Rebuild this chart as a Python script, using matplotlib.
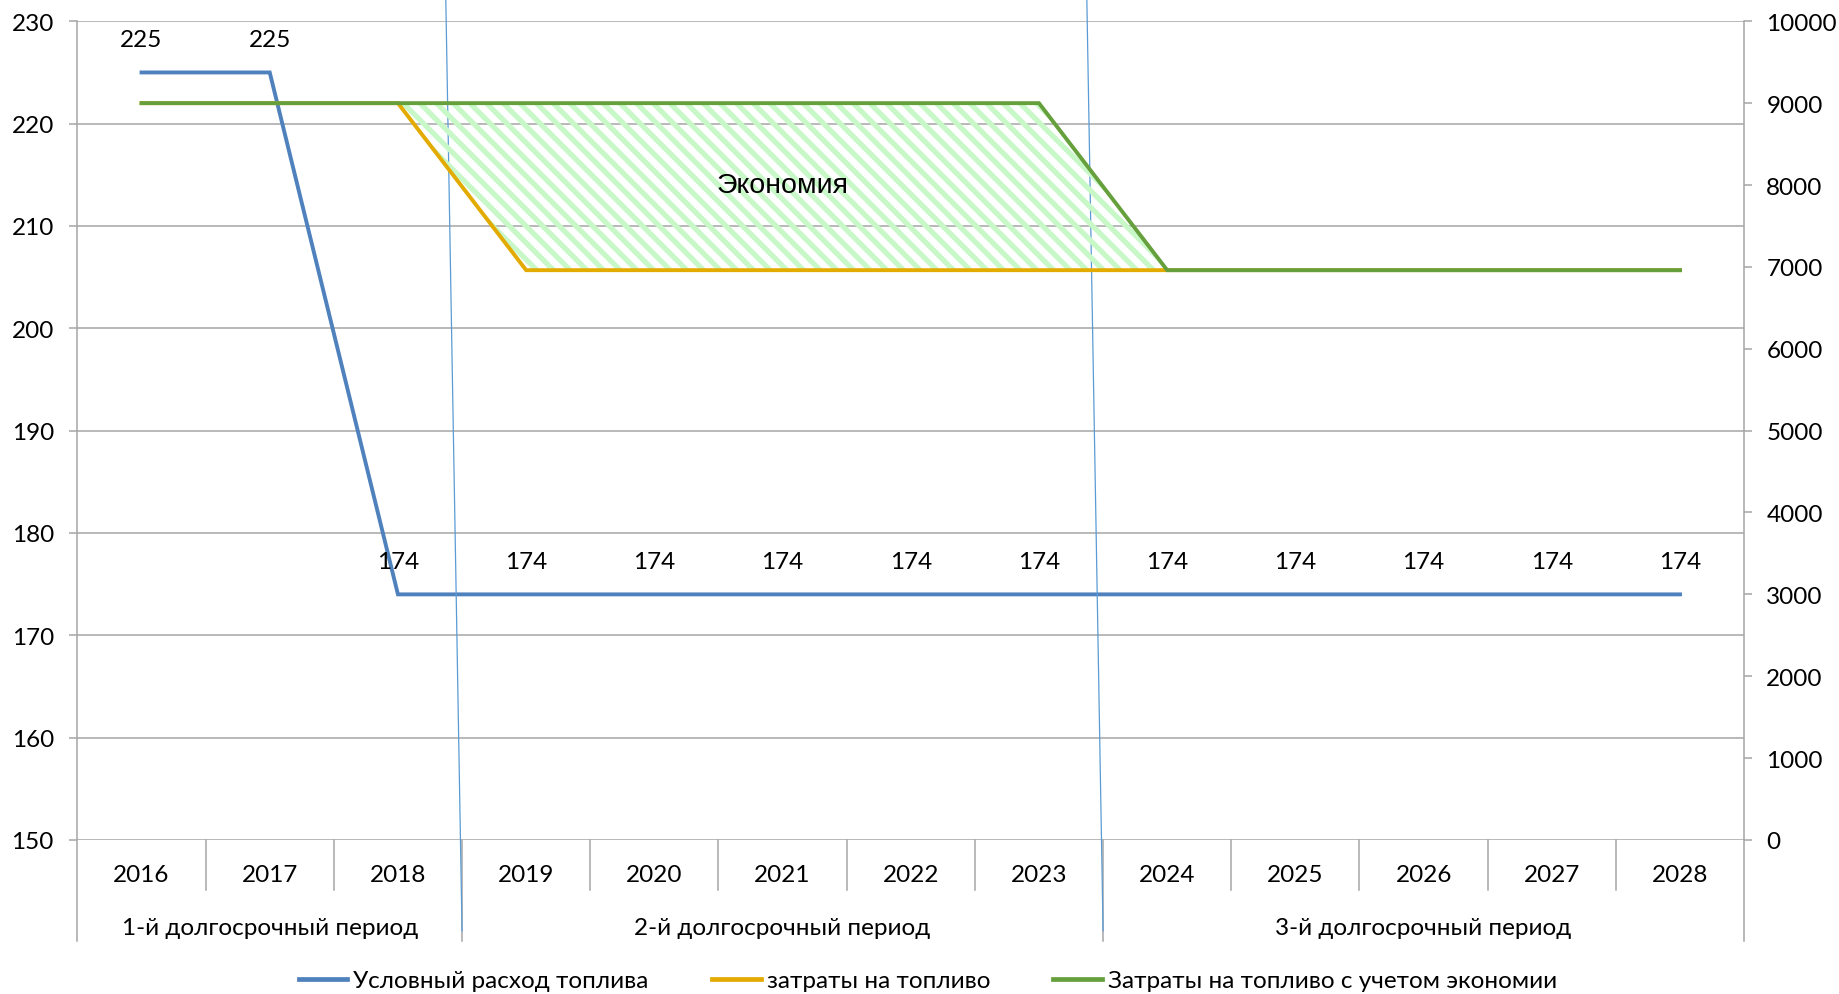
import numpy as np
import matplotlib
matplotlib.use('Agg')
import matplotlib.pyplot as plt
from matplotlib import font_manager
from matplotlib.lines import Line2D

# data
years = [str(y) for y in range(2016, 2029)]
periods = ['1-й долгосрочный период', '2-й долгосрочный период', '3-й долгосрочный период']
period_len = [3, 5, 5]
fuel_rate = [225, 225, 174, 174, 174, 174, 174, 174, 174, 174, 174, 174, 174]
fuel_cost = [9000, 9000, 9000, 6960, 6960, 6960, 6960, 6960, 6960, 6960, 6960, 6960, 6960]
fuel_cost_saving = [9000, 9000, 9000, 9000, 9000, 9000, 9000, 9000, 6960, 6960, 6960, 6960, 6960]
series_names = ['Условный расход топлива', 'затраты на топливо',
                'Затраты на топливо с учетом экономии']
fill_label = 'Экономия'

BLUE = '#4f81bd'
ORANGE = '#e3aa00'
GREEN = '#65a03c'
GRID = '#a6a6a6'

available = {f.name for f in font_manager.fontManager.ttflist}
main_font = 'Lato' if 'Lato' in available else 'DejaVu Sans'
narrow_font = 'Liberation Sans Narrow' if 'Liberation Sans Narrow' in available else 'Liberation Sans'
plt.rcParams['font.family'] = [main_font, 'DejaVu Sans']
plt.rcParams['hatch.linewidth'] = 3.8
FS = 17.5

fig = plt.figure(figsize=(18.39, 9.95), dpi=100)
ax = fig.add_axes([0.0421, 0.1548, 0.9063, 0.8228])
ax2 = ax.twinx()

x = np.arange(len(years))

# left axis: fuel rate
ax.plot(x, fuel_rate, color=BLUE, lw=2.8, zorder=3, solid_joinstyle='miter')
for xi, v in zip(x, fuel_rate):
    ax.annotate(str(v), (xi, v), xytext=(0, 23.6), textcoords='offset points',
                ha='center', va='center', fontsize=FS)
ax.set_xlim(-0.5, len(years) - 0.5)
ax.set_ylim(150, 230)
ax.set_yticks(np.arange(150, 231, 10))
ax.grid(axis='y', color=GRID, lw=1.1)
ax.set_axisbelow(True)
ax.set_xticks([])
ax.tick_params(axis='y', direction='out', length=6, width=1.1, color=GRID,
               pad=11, labelsize=FS)
for s in ax.spines.values():
    s.set_visible(False)

# right axis: costs
ax2.fill_between(x, fuel_cost, fuel_cost_saving, facecolor='none',
                 edgecolor='#c8f8c8', hatch='\\\\', linewidth=0, zorder=1)
ax2.plot(x, fuel_cost, color=ORANGE, lw=2.8, zorder=2, solid_joinstyle='miter')
ax2.plot(x, fuel_cost_saving, color=GREEN, lw=2.8, zorder=3, solid_joinstyle='miter')
ax2.text(5, 8000, fill_label, ha='center', va='center', fontsize=20.5,
         family=narrow_font)
ax2.set_ylim(0, 10000)
ax2.set_yticks(np.arange(0, 10001, 1000))
ax2.tick_params(axis='y', direction='out', length=6, width=1.1, color=GRID,
                pad=10, labelsize=FS)
for s in ax2.spines.values():
    s.set_visible(False)

# two-level category axis below the plot
trans = ax.get_xaxis_transform()
year_sep_bottom = -0.061
period_sep_bottom = -0.1234
bounds = np.cumsum([0] + period_len) - 0.5
for i in range(len(years) - 1):
    b = i + 0.5
    if b in bounds:
        continue
    ax.plot([b, b], [0, year_sep_bottom], color=GRID, lw=1.1,
            transform=trans, clip_on=False)
for b in bounds:
    ax.plot([b, b], [1 if b in (bounds[0], bounds[-1]) else 0, period_sep_bottom],
            color=GRID, lw=1.1, transform=trans, clip_on=False)
for xi, yr in zip(x, years):
    ax.text(xi, -0.042, yr, transform=trans, ha='center', va='center', fontsize=FS)
for p, lo, hi in zip(periods, bounds[:-1], bounds[1:]):
    ax.text((lo + hi) / 2, -0.1064, p, transform=trans, ha='center',
            va='center', fontsize=FS)

# period dividers drawn across the whole chart
for b in bounds[1:-1]:
    ax.add_line(Line2D([b, b - 0.127], [-0.111, 1.03], color='#5b9bd5', lw=0.9,
                       transform=trans, clip_on=False, zorder=10))

handles = [Line2D([], [], color=c, lw=3.4) for c in (BLUE, ORANGE, GREEN)]
fig.legend(handles, series_names, loc='center', bbox_to_anchor=(0.5046, 0.0135),
           ncol=3, frameon=False, fontsize=FS, handlelength=2.0,
           handletextpad=0.25, columnspacing=2.6)

fig.savefig('out.png', dpi=100)
